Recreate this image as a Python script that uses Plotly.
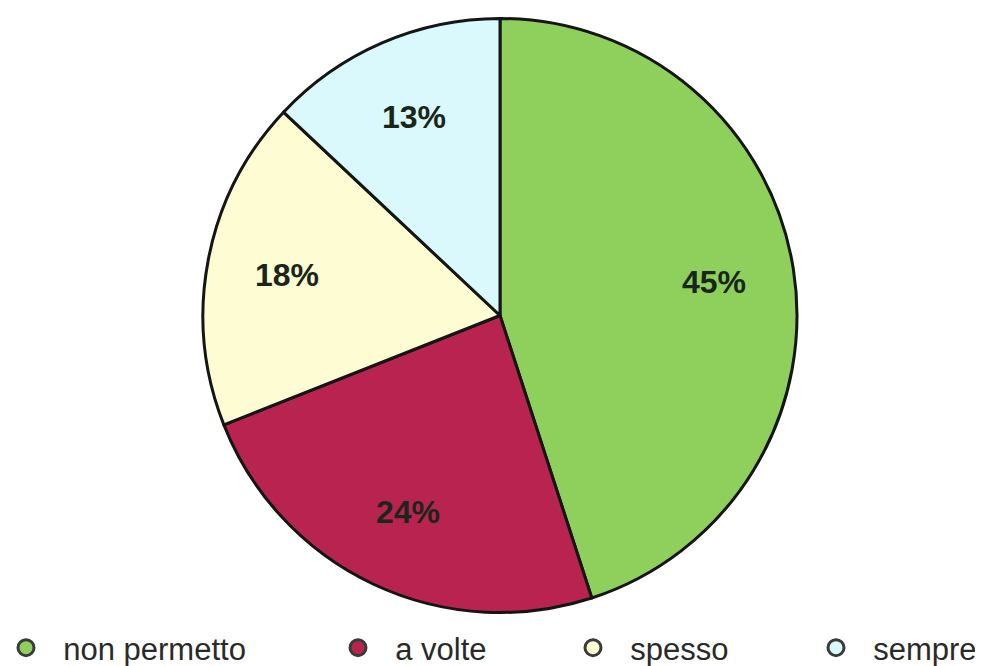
import math
import plotly.graph_objects as go

categories = ["non permetto", "a volte", "spesso", "sempre"]
values = [45, 24, 18, 13]
colors = ["#8fd05d", "#b8244f", "#fdfcd3", "#d9f9fc"]

W, H = 983, 666
# pie geometry (pixels, figure coordinates)
CX, CY, R = 492, 307.5, 297
LABEL_FRAC = 0.73

fig = go.Figure()
fig.add_trace(go.Pie(
    labels=categories, values=values, sort=False, direction="clockwise", rotation=0,
    marker=dict(colors=colors, line=dict(color="#151515", width=3)),
    textinfo="none",
    domain=dict(x=[(CX - R) / W, (CX + R) / W],
                y=[(H - CY - R) / H, (H - CY + R) / H]),
    showlegend=False, hoverinfo="skip",
))

# percentage labels placed along each slice's mid-angle (clockwise from 12 o'clock)
total = sum(values)
cum = 0
for v in values:
    mid = (cum + v / 2) / total * 2 * math.pi
    cum += v
    px = CX + LABEL_FRAC * R * math.sin(mid)
    py = CY - LABEL_FRAC * R * math.cos(mid)
    fig.add_annotation(
        x=px / W, y=(H - py) / H, xref="paper", yref="paper",
        text=f"<b>{round(v / total * 100)}%</b>", showarrow=False,
        xanchor="center", yanchor="middle",
        font=dict(family="Liberation Sans", size=32, color="#1b261b"),
    )

marker_px = [25, 357, 592, 835]
for i, (cat, col) in enumerate(zip(categories, colors)):
    lname = "legend" if i == 0 else f"legend{i+1}"
    fig.add_trace(go.Scatter(
        x=[None], y=[None], mode="markers", name="\u00a0\u00a0" + cat,
        marker=dict(symbol="circle", size=19, color=col, line=dict(color="#3a3a3a", width=3)),
        legend=lname, showlegend=True, hoverinfo="skip",
    ))
    fig.update_layout({lname: dict(
        x=(marker_px[i] - 27) / W, y=26 / H, xanchor="left", yanchor="middle",
        bgcolor="rgba(0,0,0,0)", borderwidth=0,
        font=dict(family="Liberation Sans", size=31, color="#2a2a2a"),
        itemsizing="trace",
    )})

fig.update_layout(
    width=W, height=H, margin=dict(l=0, r=0, t=0, b=0, autoexpand=False),
    paper_bgcolor="white", plot_bgcolor="white",
    xaxis=dict(visible=False), yaxis=dict(visible=False),
)
fig.write_html("out.html")
